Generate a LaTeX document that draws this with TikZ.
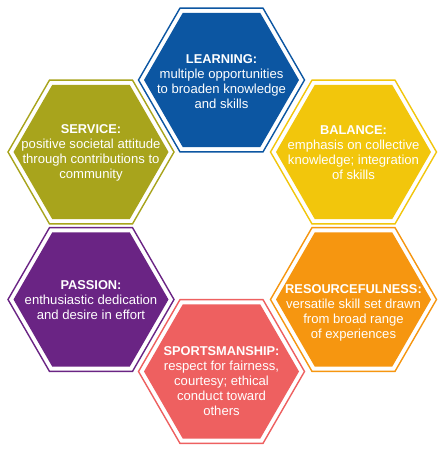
\documentclass[tikz,border=0pt]{standalone}
\usepackage{fontspec}
\setmainfont{Liberation Sans}
\usetikzlibrary{calc}
\definecolor{learnblue}{RGB}{12,86,162}
\definecolor{serviceolive}{RGB}{168,164,28}
\definecolor{balanceyellow}{RGB}{242,198,12}
\definecolor{passionpurple}{RGB}{106,36,132}
\definecolor{resorange}{RGB}{246,150,16}
\definecolor{sportcoral}{RGB}{238,96,96}
\newcommand\hextitle[1]{{\fontsize{12.8}{15}\selectfont\bfseries #1}}
\tikzset{
  hexline/.style={line width=1.4pt},
  hextext/.style={align=center, text=white, inner sep=0pt,
    font=\fontsize{13.1}{15}\selectfont},
}
\newcommand\hexcell[3]{%
  \begin{scope}[shift={(#2)}]
    \draw[hexline, draw=#3] (83,0) -- (41.5,71.9) -- (-41.5,71.9) -- (-83,0)
      -- (-41.5,-71.9) -- (41.5,-71.9) -- cycle;
    \fill[#3] (77.5,0) -- (38.75,67.1) -- (-38.75,67.1) -- (-77.5,0)
      -- (-38.75,-67.1) -- (38.75,-67.1) -- cycle;
  \end{scope}
  \coordinate (#1) at (#2);
}
\begin{document}
\begin{tikzpicture}[x=1pt,y=-1pt]
\useasboundingbox[fill=white] (0,0) rectangle (444,451);
\hexcell{learning}{221.5,80}{learnblue}
\hexcell{service}{91,152}{serviceolive}
\hexcell{balance}{353.5,152}{balanceyellow}
\hexcell{passion}{91,299.5}{passionpurple}
\hexcell{resource}{353.5,299.5}{resorange}
\hexcell{sport}{221.5,371.5}{sportcoral}
\node[hextext] (learningtext) at ($(learning)+(0,2)$)
  {\hextitle{LEARNING:}\\multiple opportunities\\to broaden knowledge\\and skills};
\node[hextext] (servicetext) at ($(service)+(0,1)$)
  {\hextitle{SERVICE:}\\positive societal attitude\\through contributions to\\community};
\node[hextext] (balancetext) at ($(balance)+(0,1)$)
  {\hextitle{BALANCE:}\\emphasis on collective\\knowledge; integration\\of skills};
\node[hextext] (passiontext) at ($(passion)+(0,1)$)
  {\hextitle{PASSION:}\\enthusiastic dedication\\and desire in effort};
\node[hextext] (resourcetext) at ($(resource)+(0,13)$)
  {\hextitle{RESOURCEFULNESS:}\\versatile skill set drawn\\from broad range\\of experiences};
\node[hextext] (sporttext) at ($(sport)+(0,10)$)
  {\hextitle{SPORTSMANSHIP:}\\respect for fairness,\\courtesy; ethical\\conduct toward\\others};
\end{tikzpicture}
\end{document}
